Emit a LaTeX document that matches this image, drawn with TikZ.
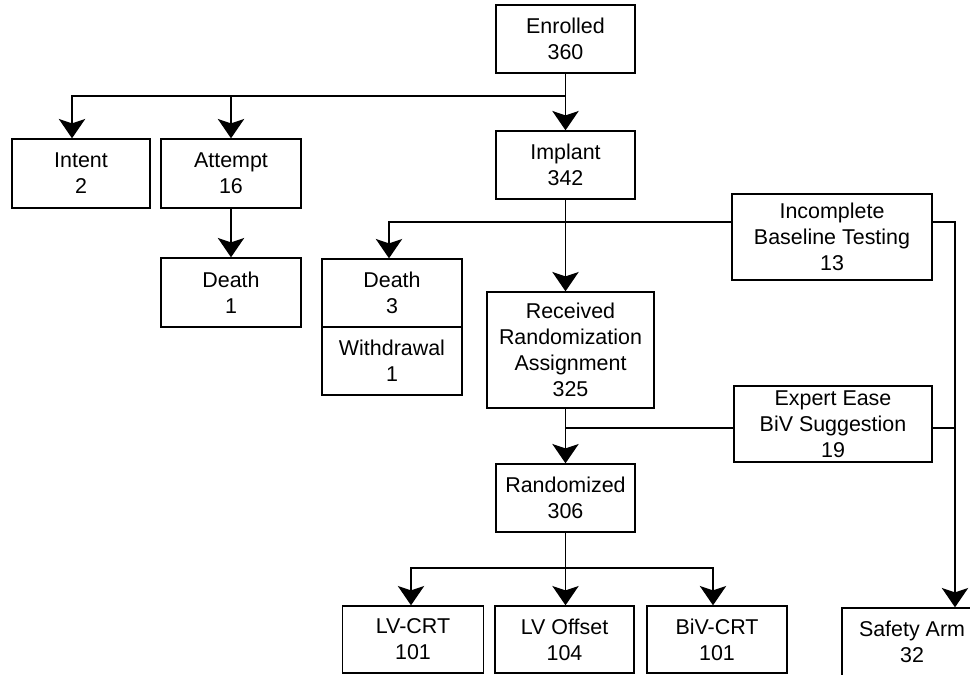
\documentclass[tikz,border=0pt]{standalone}
\usepackage{fontspec}
\setmainfont{Liberation Sans}
\usetikzlibrary{arrows.meta}
\begin{document}
\begin{tikzpicture}[x=0.02cm,y=-0.02cm,
		box/.style={draw,line width=0.8pt,align=center,inner sep=0pt,
			font=\fontsize{12.2}{14.7}\selectfont},
		fleche/.style={line width=0.8pt,-{Stealth[width=15pt,length=11pt,inset=2.5pt]}},
		trait/.style={line width=0.8pt}]
		\useasboundingbox (0,0) rectangle (970,674);
		\clip (0,0) rectangle (970,674);
		% boites
		\node[box,minimum width=139*0.02cm,minimum height=68*0.02cm] (enrolled) at (565.5,39) {Enrolled\\360};
		\node[box,minimum width=139*0.02cm,minimum height=68*0.02cm] (implant) at (565.5,165) {Implant\\342};
		\node[box,minimum width=138*0.02cm,minimum height=69*0.02cm] (intent) at (81,173.5) {Intent\\2};
		\node[box,minimum width=140*0.02cm,minimum height=69*0.02cm] (attempt) at (231,173.5) {Attempt\\16};
		\node[box,minimum width=140*0.02cm,minimum height=69*0.02cm] (death1) at (231,292.5) {Death\\1};
		\node[box,minimum width=140*0.02cm,minimum height=68*0.02cm] (death3) at (392,293) {Death\\3};
		\node[box,minimum width=140*0.02cm,minimum height=68*0.02cm] (withdraw) at (392,361) {Withdrawal\\1};
		\node[box,minimum width=200*0.02cm,minimum height=86*0.02cm] (incomplete) at (832,237) {Incomplete\\Baseline Testing\\13};
		\node[box,minimum width=167*0.02cm,minimum height=116*0.02cm] (received) at (570.5,350) {Received\\Randomization\\Assignment\\325};
		\node[box,minimum width=198*0.02cm,minimum height=76*0.02cm] (expert) at (833,424) {Expert Ease\\BiV Suggestion\\19};
		\node[box,minimum width=139*0.02cm,minimum height=68*0.02cm] (randomized) at (565.5,498) {Randomized\\306};
		\node[box,minimum width=141*0.02cm,minimum height=67*0.02cm] (lvcrt) at (413,639.5) {LV-CRT\\101};
		\node[box,minimum width=139*0.02cm,minimum height=67*0.02cm] (lvoffset) at (564.5,639.5) {LV Offset\\104};
		\node[box,minimum width=140*0.02cm,minimum height=67*0.02cm] (bivcrt) at (717,639.5) {BiV-CRT\\101};
		\node[box,minimum width=140*0.02cm,minimum height=68*0.02cm] (safety) at (912,642) {Safety Arm\\32};
		% points de branchement
		\coordinate (split1) at (565.5,96);
		\coordinate (inL) at (732,222);
		\coordinate (inR) at (932,222);
		\coordinate (rail) at (955,222);
		\coordinate (exL) at (734,428);
		\coordinate (exR) at (932,428);
		\coordinate (midR) at (565.5,428);
		\coordinate (split2) at (565.5,568);
		% haut
		\draw[fleche] (enrolled.south) -- (implant.north);
		\draw[fleche] (split1) -| ([xshift=-0.18cm]intent.north);
		\draw[fleche] (split1) -| (attempt.north);
		\draw[fleche] (attempt.south) -- (death1.north);
		% milieu
		\draw[fleche] (inL) -| ([xshift=-0.06cm]death3.north);
		\draw[fleche] (implant.south) -- (implant.south |- received.north);
		\draw[trait] (exL) -- (midR);
		\draw[fleche] (midR |- received.south) -- (randomized.north);
		% cote droit
		\draw[fleche] (inR) -- (rail) -- (rail |- safety.north);
		\draw[trait] (exR) -- (rail |- exR);
		% bas
		\draw[trait] (randomized.south) -- (split2);
		\draw[fleche] (split2) -| ([xshift=-0.04cm]lvcrt.north);
		\draw[fleche] (split2) -- (split2 |- lvoffset.north);
		\draw[fleche] (split2) -| ([xshift=-0.08cm]bivcrt.north);
	\end{tikzpicture}
\end{document}
